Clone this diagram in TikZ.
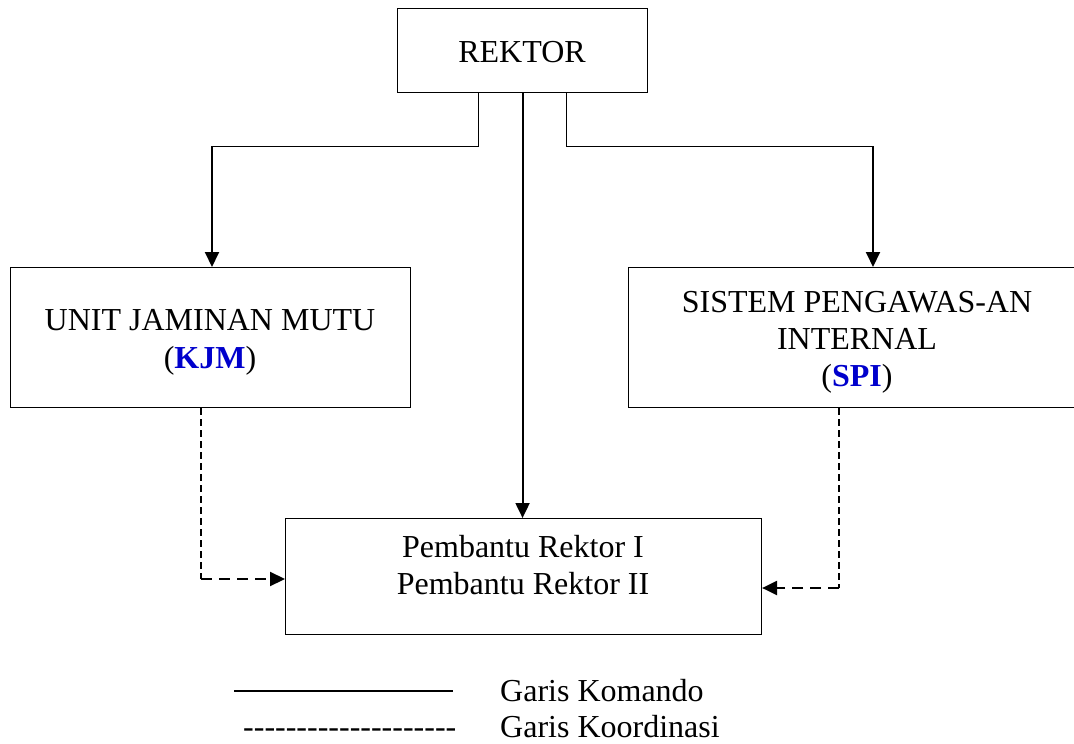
\documentclass[tikz,border=0pt]{standalone}
\usepackage{fontspec}
\setmainfont{Liberation Serif}
\usetikzlibrary{arrows.meta}
\definecolor{acr}{RGB}{0,0,204}
\newcommand\hyph{\mbox{-}}
\begin{document}
\begin{tikzpicture}[x=1bp,y=-1bp,
  box/.style={draw, line width=1.1bp, inner sep=0pt, anchor=north west},
  txt/.style={anchor=base, inner sep=0pt, font=\fontsize{32bp}{37bp}\selectfont},
  ltxt/.style={anchor=base west, inner sep=0pt, font=\fontsize{32bp}{37bp}\selectfont},
  thinline/.style={line width=1bp},
  cmd/.style={line width=2bp, -{Triangle[length=15bp,width=14bp]}},
  dvert/.style={line width=1.1bp, dash pattern=on 7bp off 4bp},
  dhor/.style={line width=2.2bp, dash pattern=on 11bp off 7bp, -{Triangle[length=15bp,width=14bp]}},
  acro/.style={color=acr, font=\bfseries}]
\useasboundingbox (0,0) rectangle (1074,744);
% boxes
\node[box, minimum width=250bp, minimum height=84bp] (rektor) at (397,8) {};
\node[box, minimum width=400bp, minimum height=140bp] (ujm) at (10,267) {};
\node[box, minimum width=458bp, minimum height=140bp] (spi) at (628,267) {};
\node[box, minimum width=476bp, minimum height=116bp] (pr) at (285,518) {};
% texts
\node[txt] (rektorT) at (522,63) {REKTOR};
\node[txt] (ujmT1) at (210,330) {UNIT JAMINAN MUTU};
\node[txt] (ujmT2) at (210,368) {(\textcolor{acr}{\textbf{KJM}})};
\node[txt] (spiT1) at (857,312) {SISTEM PENGAWAS-AN};
\node[txt] (spiT2) at (857,349) {INTERNAL};
\node[txt] (spiT3) at (857,386) {(\textcolor{acr}{\textbf{SPI}})};
\node[txt] (prT1) at (523,557) {Pembantu Rektor I};
\node[txt] (prT2) at (523,594) {Pembantu Rektor II};
% command lines
\coordinate (eL) at (478,146);
\coordinate (eL2) at (212,146);
\coordinate (eR) at (566,146);
\coordinate (eR2) at (873,146);
\draw[thinline] (rektor.south -| eL) -- (eL) -- (eL2);
\draw[cmd] (eL2) -- (ujm.north -| eL2);
\draw[thinline] (rektor.south -| eR) -- (eR) -- (eR2);
\draw[cmd] (eR2) -- (spi.north -| eR2);
\draw[cmd] (rektor.south) -- (rektor.south |- pr.north);
% coordination lines
\coordinate (kL) at (201,579);
\coordinate (kR) at (839,588);
\draw[dvert] (ujm.south -| kL) -- (kL);
\draw[dhor] (kL) -- (pr.west |- kL);
\draw[dvert] (spi.south -| kR) -- (kR);
\draw[dhor] (kR) -- (pr.east |- kR);
% legend
\coordinate (lg1) at (234,691);
\coordinate (lg2) at (453,691);
\draw[line width=1.4bp] (lg1) -- (lg2);
\node[ltxt] (lgT1) at (500,701) {Garis Komando};
\node[ltxt] (lgD) at (243,737) {\hyph\hyph\hyph\hyph\hyph\hyph\hyph\hyph\hyph\hyph\hyph\hyph\hyph\hyph\hyph\hyph\hyph\hyph\hyph\hyph};
\node[ltxt] (lgT2) at (500,737) {Garis Koordinasi};
\end{tikzpicture}
\end{document}
